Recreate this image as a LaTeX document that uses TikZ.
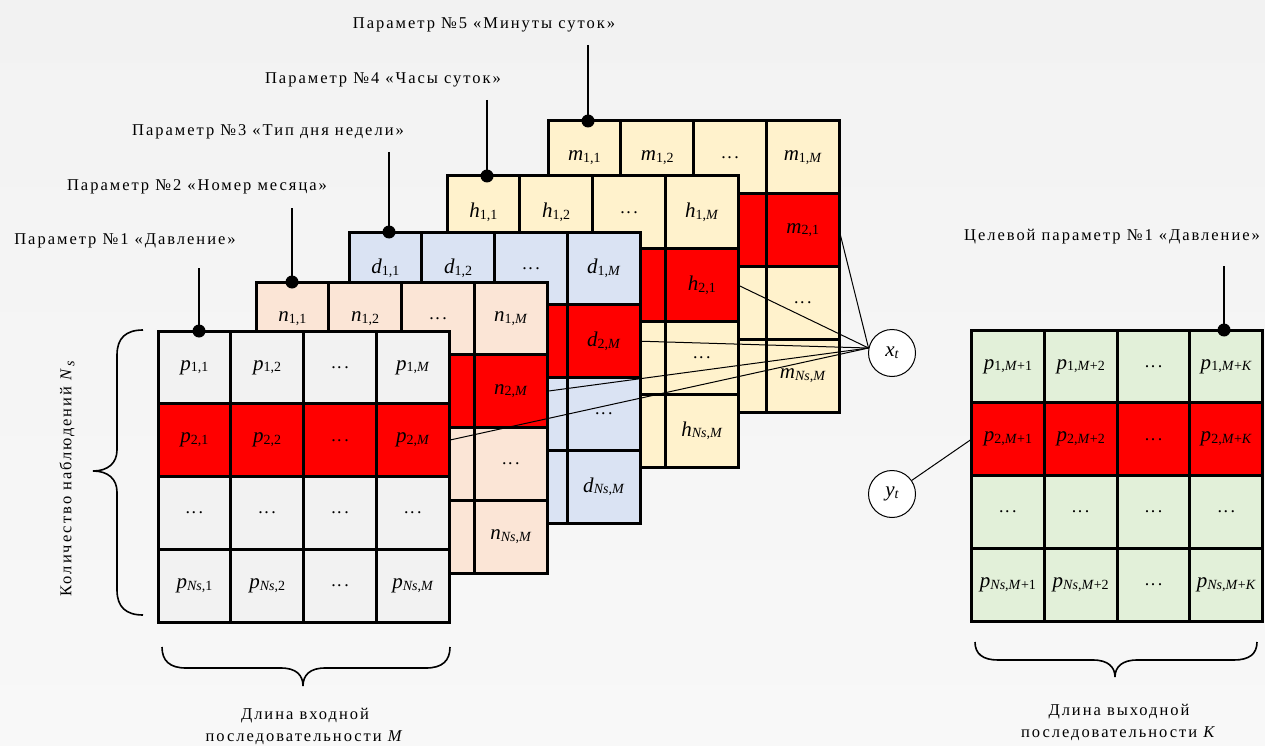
\documentclass[tikz,border=0pt]{standalone}
\usepackage{fontspec}
\setmainfont{Liberation Serif}
\newfontfamily\lblfont[LetterSpace=12]{Liberation Serif}
\usetikzlibrary{calc}

\definecolor{bgtop}{HTML}{F2F2F2}
\definecolor{bgbot}{HTML}{F8F8F8}
\definecolor{cellP}{HTML}{F2F2F2}
\definecolor{cellN}{HTML}{FBE5D6}
\definecolor{cellD}{HTML}{DAE3F3}
\definecolor{cellH}{HTML}{FFF2CC}
\definecolor{cellR}{HTML}{E2F0D9}
\definecolor{hot}{HTML}{FF0000}

\newcommand\sbs[1]{\raisebox{-0.4ex}{\fontsize{14}{14}\selectfont#1}}
\newcommand\lab[2]{{\fontsize{21}{21}\selectfont\textit{#1}}\sbs{#2}}
\newcommand\dotsx{{\fontsize{18}{18}\selectfont.\kern1.5pt.\kern2.5pt.}}
\newcommand\rowsub[1]{\ifcase#1\or 1\or 2\or \or \textit{Ns}\fi}
\newcommand\colsubA[1]{\ifcase#1\or 1\or 2\or \or \textit{M}\fi}
\newcommand\colsubB[1]{\ifcase#1\or \textit{M}+1\or \textit{M}+2\or \or \textit{M}+\textit{K}\fi}
\newcommand\celltext[5]{%
  \ifnum#2=3 \dotsx\else\ifnum#3=3 \dotsx\else
    \lab{#1}{\rowsub{#2},\ifnum#2#3=24 #4\else#5{#3}\fi}\fi\fi}

\newcommand\mkgrid[7]{%
  \foreach \r in {1,2,3,4}{\foreach \c in {1,2,3,4}{%
    \pgfmathsetmacro\cx{#2+(\c-0.5)*72.8}%
    \pgfmathsetmacro\cy{#3+(\r-0.5)*72.8}%
    \ifnum\r=2 \def\fc{hot}\else\def\fc{#4}\fi
    \node[cellbox,fill=\fc] (#1-\r-\c) at (\cx,\cy) {\celltext{#5}{\r}{\c}{#6}{#7}};
  }}}

\tikzset{
  cellbox/.style={draw=black,line width=3,minimum width=72.8,minimum height=72.8,inner sep=0,outer sep=0},
  lbl/.style={font=\lblfont\fontsize{16.5}{22}\selectfont,inner sep=0},
  dotmark/.style={circle,fill=black,inner sep=0,minimum size=13},
  stem/.style={line width=2},
  conn/.style={line width=1},
  var/.style={circle,draw=black,fill=white,line width=1,minimum size=47,inner sep=0},
  bracestroke/.style={line width=1.6}
}

\begin{document}
\begin{tikzpicture}[x=1pt,y=-1pt]
\useasboundingbox (0,0) rectangle (1265,746);
\shade[top color=bgtop,bottom color=bgbot] (0,0) rectangle (1265,746);

% grids, back to front
\mkgrid{m}{548}{121}{cellH}{m}{1}{\colsubA}
\mkgrid{h}{447}{176}{cellH}{h}{1}{\colsubA}
\mkgrid{d}{349}{232}{cellD}{d}{\textit{M}}{\colsubA}
\mkgrid{n}{256}{282}{cellN}{n}{\textit{M}}{\colsubA}
\mkgrid{p}{158}{331}{cellP}{p}{\textit{M}}{\colsubA}
\mkgrid{r}{971.5}{330}{cellR}{p}{\textit{M}+\textit{K}}{\colsubB}

% variable circles
\node[var] (xt) at (892,353) {\lab{x}{\textit{t}}};
\node[var] (yt) at (892,494) {\lab{y}{\textit{t}}};

% connectors to x_t
\draw[conn] (m-2-4.east) -- (xt.168);
\draw[conn] (h-2-4.east) -- (xt.168);
\draw[conn] (d-2-4.east) -- (xt.168);
\draw[conn] (n-2-4.east) -- (xt.168);
\draw[conn] (p-2-4.east) -- (xt.168);
\draw[conn] (yt) -- (r-2-1.west);

% parameter labels with stems and dots
\node[lbl] (p-lbl) at (125,241) {Параметр №1 «Давление»};
\node[lbl] (n-lbl) at (197,187) {Параметр №2 «Номер месяца»};
\node[lbl] (d-lbl) at (268,132) {Параметр №3 «Тип дня недели»};
\node[lbl] (h-lbl) at (383,80) {Параметр №4 «Часы суток»};
\node[lbl] (m-lbl) at (484,25) {Параметр №5 «Минуты суток»};
\node[lbl] (r-lbl) at (1112,237) {Целевой параметр №1 «Давление»};

\node[dotmark] (p-dot) at (199,331) {};
\node[dotmark] (n-dot) at (292,282) {};
\node[dotmark] (d-dot) at (389,232) {};
\node[dotmark] (h-dot) at (487,176) {};
\node[dotmark] (m-dot) at (588,121) {};
\node[dotmark] (r-dot) at (1224,330) {};

\coordinate (p-top) at (199,268);
\coordinate (n-top) at (292,208);
\coordinate (d-top) at (389,152);
\coordinate (h-top) at (487,100);
\coordinate (m-top) at (588,45);
\coordinate (r-top) at (1224,266);
\foreach \g in {p,n,d,h,m,r}{\draw[stem] (\g-top) -- (\g-dot.center);}

% left vertical brace
\draw[bracestroke] (143,330) .. controls (126,330) and (117,338) .. (117,355)
  -- (117,450) .. controls (117,463) and (108,471) .. (93,471)
  .. controls (108,471) and (117,479) .. (117,492)
  -- (117,590) .. controls (117,607) and (126,615) .. (143,615);
\node[lbl,rotate=90] (ns-lbl) at (67,478) {Количество наблюдений \textit{N}\sbs{\textit{s}}};

% bottom braces
\draw[bracestroke] (162,647) .. controls (162,661) and (170,668) .. (186,668)
  -- (281,668) .. controls (296,668) and (303,675) .. (303,686)
  .. controls (303,675) and (310,668) .. (325,668)
  -- (426,668) .. controls (442,668) and (450,661) .. (450,647);
\node[lbl,align=center] (in-lbl) at (305,726) {Длина входной\\последовательности \textit{M}};

\draw[bracestroke] (975,642) .. controls (975,654) and (983,660) .. (998,660)
  -- (1093,660) .. controls (1108,660) and (1115,667) .. (1115,677)
  .. controls (1115,667) and (1122,660) .. (1137,660)
  -- (1234,660) .. controls (1249,660) and (1257,654) .. (1257,642);
\node[lbl,align=center] (out-lbl) at (1119,722) {Длина выходной\\последовательности \textit{K}};
\end{tikzpicture}
\end{document}
